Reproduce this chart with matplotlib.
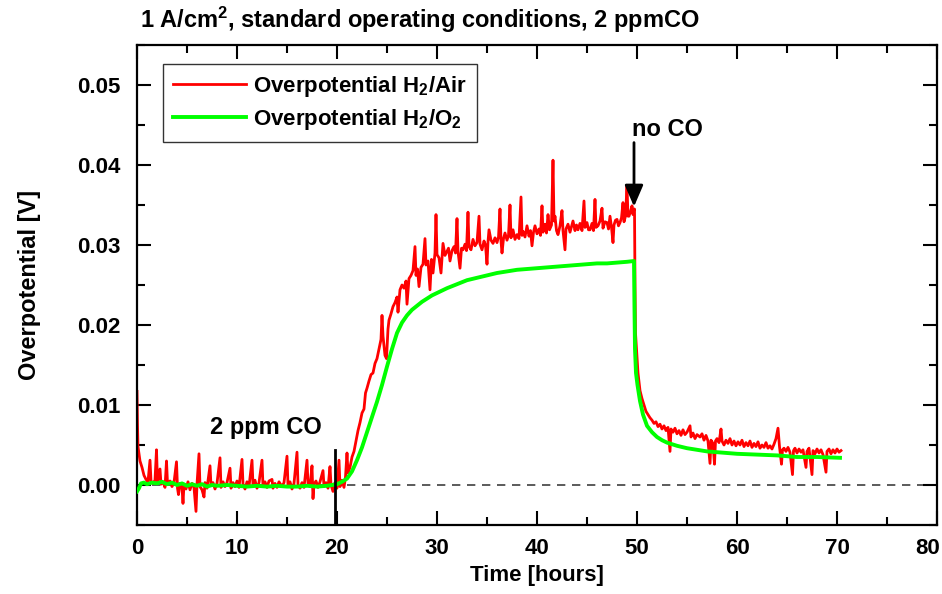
import matplotlib
matplotlib.use("Agg")
import matplotlib.pyplot as plt
from matplotlib.ticker import MultipleLocator, FormatStrFormatter
from matplotlib.transforms import ScaledTranslation

# ---------------- data ----------------
red_t = [0.0, 0.05, 0.1, 0.3, 0.5, 0.7, 0.9, 1.1, 1.3, 1.4, 1.6, 1.8, 1.95, 2.05, 2.3, 2.4,
         2.6, 2.8, 2.95, 3.05, 3.3, 3.5, 3.7, 3.95, 4.05, 4.15, 4.3, 4.5, 4.6, 4.7, 4.9, 5.1,
         5.3, 5.5, 5.7, 5.9, 6.0, 6.2, 6.3, 6.5, 6.7, 6.8, 7.0, 7.3, 7.4, 7.6, 7.8, 8.0,
         8.3, 8.4, 8.6, 8.8, 9.0, 9.3, 9.4, 9.6, 9.8, 10.0, 10.2, 10.5, 10.6, 10.8, 11.0, 11.2,
         11.5, 11.6, 11.8, 12.0, 12.2, 12.5, 12.6, 12.8, 13.0, 13.2, 13.5, 13.6, 13.8, 14.0, 14.2, 14.5,
         14.7, 15.0, 15.1, 15.3, 15.5, 15.7, 16.0, 16.1, 16.3, 16.5, 16.7, 17.0, 17.1, 17.3, 17.5, 17.6,
         17.7, 17.9, 18.1, 18.3, 18.6, 18.7, 18.9, 19.1, 19.3, 19.4, 19.6, 19.8, 20.0, 20.2, 20.3, 20.5,
         20.7, 20.85, 21.0, 21.1, 21.3, 21.5, 21.7, 21.9, 22.1, 22.3, 22.5, 22.7, 22.85, 23.0, 23.2, 23.4,
         23.6, 23.8, 24.0, 24.2, 24.4, 24.5, 24.6, 24.8, 24.95, 25.1, 25.2, 25.4, 25.6, 25.8, 26.0, 26.1,
         26.3, 26.5, 26.7, 26.9, 27.0, 27.2, 27.4, 27.6, 27.8, 27.9, 28.05, 28.2, 28.4, 28.6, 28.8, 28.9,
         29.1, 29.3, 29.45, 29.6, 29.8, 29.9, 30.0, 30.2, 30.4, 30.6, 30.8, 31.0, 31.15, 31.3, 31.5, 31.7,
         31.85, 32.0, 32.1, 32.3, 32.45, 32.6, 32.8, 32.95, 33.1, 33.2, 33.4, 33.6, 33.8, 34.0, 34.2, 34.3,
         34.5, 34.7, 34.85, 35.0, 35.1, 35.2, 35.4, 35.6, 35.8, 36.0, 36.15, 36.3, 36.4, 36.5, 36.65, 36.8,
         37.0, 37.15, 37.3, 37.4, 37.6, 37.8, 38.0, 38.2, 38.4, 38.5, 38.6, 38.8, 39.0, 39.2, 39.35, 39.5,
         39.65, 39.8, 40.0, 40.2, 40.35, 40.5, 40.6, 40.8, 40.95, 41.1, 41.25, 41.45, 41.6, 41.7, 41.8, 41.95,
         42.1, 42.3, 42.5, 42.6, 42.8, 42.9, 43.1, 43.3, 43.45, 43.6, 43.8, 43.95, 44.1, 44.3, 44.5, 44.7,
         44.8, 45.0, 45.15, 45.3, 45.5, 45.65, 45.8, 45.9, 46.1, 46.3, 46.5, 46.6, 46.8, 47.0, 47.15, 47.3,
         47.45, 47.6, 47.7, 47.85, 48.0, 48.15, 48.3, 48.45, 48.6, 48.7, 48.85, 49.0, 49.1, 49.2, 49.35, 49.5,
         49.6, 49.7, 49.75, 49.8, 49.85, 49.95, 50.1, 50.3, 50.5, 50.7, 50.9, 51.1, 51.3, 51.5, 51.7, 51.9,
         52.1, 52.3, 52.5, 52.7, 52.9, 53.1, 53.3, 53.4, 53.6, 53.8, 54.0, 54.2, 54.4, 54.6, 54.8, 55.0,
         55.3, 55.4, 55.6, 55.8, 56.0, 56.3, 56.5, 56.7, 56.9, 57.1, 57.3, 57.4, 57.6, 57.75, 57.85, 58.0,
         58.2, 58.4, 58.5, 58.7, 58.9, 59.1, 59.3, 59.5, 59.7, 59.9, 60.1, 60.3, 60.5, 60.7, 60.9, 61.1,
         61.3, 61.5, 61.7, 61.9, 62.1, 62.3, 62.5, 62.7, 62.9, 63.1, 63.3, 63.5, 63.7, 63.9, 64.1, 64.25,
         64.45, 64.55, 64.7, 64.9, 65.1, 65.3, 65.55, 65.65, 65.8, 66.0, 66.2, 66.4, 66.6, 66.9, 67.0, 67.2,
         67.5, 67.6, 67.8, 68.0, 68.2, 68.4, 68.6, 68.9, 69.0, 69.2, 69.4, 69.6, 69.8, 70.0, 70.2, 70.4]

red_v = [0.0117, 0.0075, 0.0048, 0.0030, 0.0022, 0.0012, 0.0007, 0.0004, 0.0031, 0.0005, 0.0002, 0.0006, 0.0044, 0.0004, 0.0020, 0.0001,
         0.0004, -0.0003, 0.0030, 0.0002, 0.0005, -0.0002, 0.0003, 0.0029, -0.0004, -0.0012, 0.0002, -0.0003, -0.0023, 0.0001, -0.0005, 0.0004,
         -0.0006, 0.0002, -0.0003, -0.0033, 0.0001, 0.0039, -0.0002, -0.0006, -0.0015, 0.0003, -0.0004, 0.0024, -0.0001, 0.0003, -0.0005, 0.0002,
         0.0034, -0.0003, 0.0004, -0.0002, 0.0003, 0.0021, -0.0004, 0.0003, -0.0002, 0.0005, -0.0003, 0.0032, 0.0001, -0.0005, 0.0004, -0.0002,
         0.0031, 0.0000, 0.0006, -0.0004, 0.0003, 0.0031, -0.0002, 0.0004, -0.0003, 0.0005, 0.0007, -0.0004, 0.0002, -0.0003, 0.0004, -0.0002,
         0.0003, 0.0036, -0.0001, 0.0004, -0.0005, 0.0002, 0.0041, 0.0000, -0.0004, 0.0003, -0.0003, 0.0031, 0.0002, -0.0002, 0.0024, -0.0017,
         0.0001, 0.0005, -0.0003, 0.0004, 0.0018, -0.0002, 0.0003, -0.0004, 0.0023, 0.0000, -0.0008, 0.0003, -0.0004, 0.0031, -0.0002, 0.0006,
         -0.0003, 0.0010, 0.0040, 0.0015, 0.0022, 0.0035, 0.0042, 0.0055, 0.0068, 0.0078, 0.0090, 0.0095, 0.0115, 0.0121, 0.0130, 0.0138,
         0.0140, 0.0152, 0.0158, 0.0170, 0.0182, 0.0212, 0.0186, 0.0162, 0.0158, 0.0195, 0.0206, 0.0214, 0.0223, 0.0228, 0.0235, 0.0216,
         0.0244, 0.0250, 0.0246, 0.0255, 0.0226, 0.0258, 0.0262, 0.0268, 0.0298, 0.0262, 0.0270, 0.0248, 0.0272, 0.0276, 0.0308, 0.0275,
         0.0280, 0.0244, 0.0282, 0.0265, 0.0290, 0.0338, 0.0288, 0.0284, 0.0265, 0.0302, 0.0287, 0.0292, 0.0296, 0.0280, 0.0293, 0.0298,
         0.0290, 0.0333, 0.0292, 0.0271, 0.0296, 0.0294, 0.0301, 0.0293, 0.0341, 0.0298, 0.0294, 0.0307, 0.0299, 0.0303, 0.0336, 0.0301,
         0.0294, 0.0305, 0.0300, 0.0276, 0.0304, 0.0319, 0.0306, 0.0302, 0.0309, 0.0303, 0.0310, 0.0345, 0.0305, 0.0290, 0.0308, 0.0315,
         0.0306, 0.0312, 0.0350, 0.0309, 0.0319, 0.0307, 0.0313, 0.0308, 0.0360, 0.0312, 0.0317, 0.0310, 0.0324, 0.0311, 0.0318, 0.0299,
         0.0316, 0.0324, 0.0314, 0.0320, 0.0312, 0.0349, 0.0316, 0.0326, 0.0315, 0.0338, 0.0319, 0.0325, 0.0406, 0.0330, 0.0336, 0.0318,
         0.0313, 0.0324, 0.0343, 0.0318, 0.0294, 0.0320, 0.0326, 0.0316, 0.0323, 0.0330, 0.0318, 0.0325, 0.0319, 0.0327, 0.0318, 0.0355,
         0.0322, 0.0328, 0.0319, 0.0319, 0.0327, 0.0318, 0.0357, 0.0322, 0.0324, 0.0330, 0.0346, 0.0321, 0.0329, 0.0328, 0.0320, 0.0336,
         0.0322, 0.0303, 0.0325, 0.0331, 0.0332, 0.0324, 0.0328, 0.0334, 0.0353, 0.0329, 0.0336, 0.0374, 0.0336, 0.0336, 0.0342, 0.0349,
         0.0338, 0.0345, 0.0345, 0.0250, 0.0190, 0.0170, 0.0140, 0.0118, 0.0108, 0.0100, 0.0092, 0.0088, 0.0084, 0.0081, 0.0077, 0.0079,
         0.0073, 0.0076, 0.0070, 0.0074, 0.0068, 0.0072, 0.0042, 0.0070, 0.0066, 0.0071, 0.0064, 0.0068, 0.0062, 0.0069, 0.0063, 0.0066,
         0.0074, 0.0060, 0.0065, 0.0058, 0.0063, 0.0060, 0.0064, 0.0056, 0.0062, 0.0055, 0.0027, 0.0056, 0.0052, 0.0026, 0.0055, 0.0058,
         0.0053, 0.0070, 0.0055, 0.0050, 0.0056, 0.0052, 0.0058, 0.0050, 0.0055, 0.0049, 0.0054, 0.0050, 0.0056, 0.0048, 0.0053, 0.0049,
         0.0055, 0.0047, 0.0052, 0.0048, 0.0054, 0.0046, 0.0050, 0.0047, 0.0053, 0.0046, 0.0049, 0.0045, 0.0051, 0.0058, 0.0071, 0.0048,
         0.0026, 0.0044, 0.0046, 0.0042, 0.0047, 0.0041, 0.0013, 0.0043, 0.0046, 0.0040, 0.0045, 0.0041, 0.0044, 0.0022, 0.0042, 0.0046,
         0.0013, 0.0043, 0.0039, 0.0045, 0.0040, 0.0044, 0.0038, 0.0016, 0.0042, 0.0045, 0.0039, 0.0044, 0.0040, 0.0045, 0.0041, 0.0043]

green_t = [0.0, 0.2, 0.4, 0.7, 1.0, 1.5, 2.0, 2.5, 3.0, 3.5, 4.0, 4.5, 5.0, 5.5, 6.0, 6.5,
           7.0, 7.5, 8.0, 9.0, 10.0, 11.0, 12.0, 13.0, 14.0, 15.0, 16.0, 17.0, 18.0, 19.0, 19.5, 20.0,
           20.5, 21.0, 21.5, 22.0, 22.5, 23.0, 23.5, 24.0, 24.5, 25.0, 25.5, 26.0, 26.5, 27.0, 27.5, 28.0,
           28.5, 29.0, 29.5, 30.0, 31.0, 32.0, 33.0, 34.0, 35.0, 36.0, 37.0, 38.0, 39.0, 40.0, 41.0, 42.0,
           43.0, 44.0, 45.0, 46.0, 47.0, 48.0, 49.0, 49.7, 49.75, 49.8, 49.9, 50.05, 50.3, 50.6, 51.0, 51.5,
           52.0, 52.5, 53.0, 54.0, 55.0, 56.0, 57.0, 58.0, 59.0, 60.0, 62.0, 64.0, 66.0, 68.0, 70.3]

green_v = [-0.0008, -0.0004, 0.0002, 0.0003, 0.0001, 0.0003, 0.0002, 0.0004, 0.0001, 0.0003, 0.0000, 0.0002, -0.0001, 0.0001, -0.0001, 0.0001,
           -0.0002, 0.0000, -0.0001, 0.0000, -0.0001, -0.0002, -0.0001, -0.0002, -0.0001, -0.0002, -0.0002, -0.0001, -0.0002, -0.0001, 0.0000, 0.0001,
           0.0004, 0.0008, 0.0017, 0.0031, 0.0047, 0.0066, 0.0085, 0.0104, 0.0125, 0.0148, 0.0170, 0.0190, 0.0203, 0.0212, 0.0219, 0.0224,
           0.0229, 0.0233, 0.0237, 0.0240, 0.0246, 0.0251, 0.0256, 0.0259, 0.0262, 0.0265, 0.0267, 0.0269, 0.0270, 0.0271, 0.0272, 0.0273,
           0.0274, 0.0275, 0.0276, 0.0277, 0.0277, 0.0278, 0.0279, 0.0280, 0.0220, 0.0170, 0.0140, 0.0125, 0.0105, 0.0088, 0.0074, 0.0066,
           0.0060, 0.0056, 0.0053, 0.0049, 0.0046, 0.0044, 0.0042, 0.0041, 0.0040, 0.0039, 0.0038, 0.0037, 0.0035, 0.0035, 0.0034]

x_ticks = [0, 10, 20, 30, 40, 50, 60, 70, 80]
y_ticks = [0.00, 0.01, 0.02, 0.03, 0.04, 0.05]

co_on_time = 19.8
co_off_time = 49.7

# ---------------- styling ----------------
FONT = "Liberation Sans"
plt.rcParams["font.family"] = [FONT, "DejaVu Sans"]
plt.rcParams["font.weight"] = "bold"
plt.rcParams["mathtext.default"] = "regular"

fig = plt.figure(figsize=(9.42, 5.94), dpi=100)
ax = fig.add_axes([137 / 942, 69 / 594, 800 / 942, 480 / 594])

ax.axhline(0, color="#404040", lw=1.2, ls=(0, (5, 4)), zorder=1)
ax.plot(red_t, red_v, color="#ff0000", lw=2.0, zorder=2, label="Overpotential H$_2$/Air")
ax.plot(green_t, green_v, color="#00ff00", lw=2.8, zorder=3, label="Overpotential H$_2$/O$_2$")

ax.set_xlim(0, 80)
ax.set_ylim(-0.005, 0.055)
ax.set_xticks(x_ticks)
ax.set_yticks(y_ticks)
ax.xaxis.set_minor_locator(MultipleLocator(5))
ax.yaxis.set_minor_locator(MultipleLocator(0.005))
ax.yaxis.set_major_formatter(FormatStrFormatter("%.2f"))

ax.tick_params(which="both", direction="in", top=True, right=True, width=1.5, colors="black")
ax.tick_params(which="major", length=10, labelsize=16)
ax.tick_params(which="minor", length=6)
ax.tick_params(axis="x", which="major", pad=9)
ax.tick_params(axis="y", which="major", pad=12)
for lab in ax.get_xticklabels() + ax.get_yticklabels():
    lab.set_fontweight("bold")
for s in ax.spines.values():
    s.set_linewidth(1.6)

# keep the last x tick label inside the figure
last = ax.get_xticklabels()[-1]
last.set_transform(last.get_transform() + ScaledTranslation(-9 / 100, 0, fig.dpi_scale_trans))

ax.set_xlabel("Time [hours]", fontsize=16, fontweight="bold", labelpad=5)
ax.set_ylabel("Overpotential [V]", fontsize=17, fontweight="bold", labelpad=26)

fig.text(140 / 942, 1 - 28 / 594, "1 A/cm$^2$, standard operating conditions, 2 ppmCO",
         fontsize=17, fontweight="bold", ha="left", va="baseline")

leg = ax.legend(loc="upper left", bbox_to_anchor=(26 / 800, 1 - 19 / 480), borderaxespad=0,
                prop={"family": FONT, "weight": "bold", "size": 16},
                handlelength=3.3, handletextpad=0.3, labelspacing=0.35,
                fancybox=False, framealpha=1, edgecolor="#333333", borderpad=0.45)
leg.get_frame().set_linewidth(1.0)

# annotations
ax.plot([co_on_time, co_on_time], [0.0044, -0.005], color="black", lw=2, zorder=4)
ax.text(12.9, 0.0072, "2 ppm CO", fontsize=17, fontweight="bold", ha="center", va="center")
ax.annotate("", xy=(co_off_time, 0.0348), xytext=(co_off_time, 0.0428),
            arrowprops=dict(arrowstyle="-|>,head_length=0.65,head_width=0.28",
                            color="black", lw=2, mutation_scale=20, shrinkA=0, shrinkB=0))
ax.text(53.0, 0.0444, "no CO", fontsize=17, fontweight="bold", ha="center", va="center")

fig.savefig("out.png", dpi=100)
